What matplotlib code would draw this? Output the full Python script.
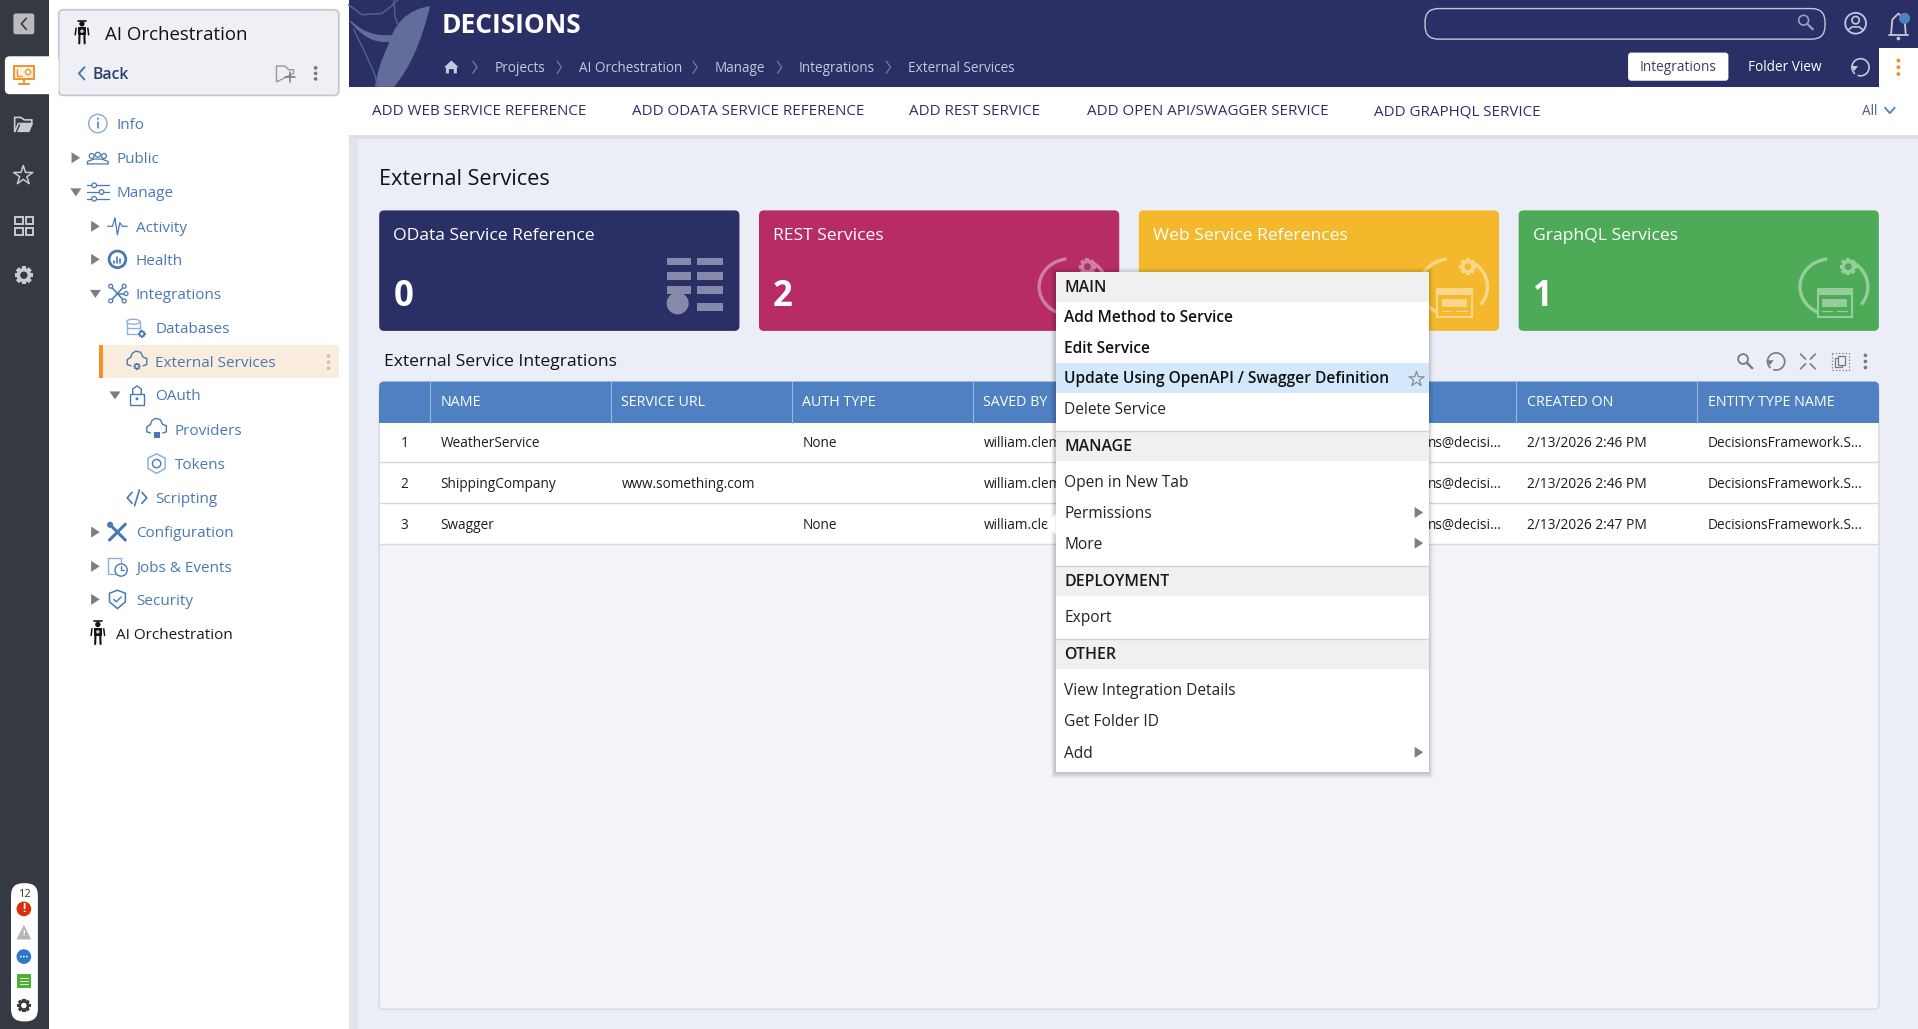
import matplotlib
matplotlib.use('Agg')
import matplotlib.pyplot as plt
from matplotlib.patches import Rectangle, FancyBboxPatch, Circle, Polygon, PathPatch, Ellipse, Arc
from matplotlib.path import Path
from matplotlib.transforms import Affine2D

plt.rcParams['font.family'] = ['Open Sans', 'DejaVu Sans']

NAVY = '#2a3066'
BLUE = '#4f81c2'
LINK = '#4a78b5'
ORANGE = '#f39325'
DARK = '#353a42'
PAGE = '#ebeef6'

# left tree
tree_labels = ['Info', 'Public', 'Manage', 'Activity', 'Health', 'Integrations', 'Databases',
               'External Services', 'OAuth', 'Providers', 'Tokens', 'Scripting',
               'Configuration', 'Jobs & Events', 'Security', 'AI Orchestration']
tree_x = [95, 95, 95, 111, 111, 111, 127, 127, 127, 143, 143, 127, 111, 111, 111, 95]
tree_y = [101, 129, 157, 185, 212, 240, 268, 296, 323, 351, 379, 407, 435, 463, 490, 518]
tree_arrow = [None, 'r', 'd', 'r', 'r', 'd', None, None, 'd', None, None, None, 'r', 'r', 'r', None]
tree_icon = ['info', 'people', 'sliders', 'pulse', 'health', 'nodes', 'db', 'cloud', 'lock',
             'cloudlock', 'hex', 'code', 'tools', 'jobs', 'shield', 'robot']

crumbs = ['Projects', 'AI Orchestration', 'Manage', 'Integrations', 'External Services']
crumb_x = [404, 473, 584, 653, 742]

toolbar_labels = ['ADD WEB SERVICE REFERENCE', 'ADD ODATA SERVICE REFERENCE', 'ADD REST SERVICE',
                  'ADD OPEN API/SWAGGER SERVICE', 'ADD GRAPHQL SERVICE']
toolbar_x = [304, 517, 743, 889, 1123]

card_titles = ['OData Service Reference', 'REST Services', 'Web Service References', 'GraphQL Services']
card_values = ['0', '2', '', '1']
card_x = [310, 620.5, 931, 1241.5]
card_colors = [NAVY, '#b82c66', '#f3b82c', '#4dab58']
card_icon_colors = ['#8689a9', '#d07fa4', '#f8d78a', '#96cd9d']

col_headers = ['NAME', 'SERVICE URL', 'AUTH TYPE', 'SAVED BY', 'CREATED ON', 'ENTITY TYPE NAME']
col_x = [351.5, 499.5, 647.5, 795.5, 1239.5, 1387.5]
row_names = ['WeatherService', 'ShippingCompany', 'Swagger']
row_urls = ['', 'www.something.com', '']
row_auth = ['None', '', 'None']
row_saved = ['william.clem', 'william.clem', 'william.cle']
row_created_by = ['ns@decisi...', 'ns@decisi...', 'ns@decisi...']
row_created_on = ['2/13/2026 2:46 PM', '2/13/2026 2:46 PM', '2/13/2026 2:47 PM']
row_entity = ['DecisionsFramework.S...'] * 3
row_y = [361.5, 395, 428.5]

menu_heads = ['MAIN', 'MANAGE', 'DEPLOYMENT', 'OTHER']
menu_head_y = [234, 364.5, 475, 534.5]
menu_items = ['Add Method to Service', 'Edit Service', 'Update Using OpenAPI / Swagger Definition',
              'Delete Service', 'Open in New Tab', 'Permissions', 'More', 'Export',
              'View Integration Details', 'Get Folder ID', 'Add']
menu_y = [259, 284, 309, 334, 394, 419, 444, 504, 564, 589, 615]
menu_bold = [True, True, True, False, False, False, False, False, False, False, False]
menu_sub = [False, False, False, False, False, True, True, False, False, False, True]

fig = plt.figure(figsize=(19.18, 10.29), dpi=100)
ax = fig.add_axes([0, 0, 1, 1])
ax.set_xlim(0, 1568)
ax.set_ylim(841.2, 0)
ax.axis('off')


def rect(x0, y0, x1, y1, color, z=1, **kw):
    ax.add_patch(Rectangle((x0, y0), x1 - x0, y1 - y0, fc=color, ec='none', zorder=z, **kw))


def rrect(x0, y0, x1, y1, color, r=3, z=1, ec='none', lw=0, **kw):
    ax.add_patch(FancyBboxPatch((x0 + r, y0 + r), x1 - x0 - 2 * r, y1 - y0 - 2 * r,
                                boxstyle='round,pad=%s,rounding_size=%s' % (r, r),
                                fc=color, ec=ec, lw=lw, zorder=z, **kw))


def txt(x, y, s, size=10.2, color='#1c1c1c', z=5, weight='normal', ha='left', **kw):
    # Open Sans sits a little high with va=center, more so at larger sizes
    ax.text(x, y + size * 0.13, s, fontsize=size, color=color, zorder=z, weight=weight, ha=ha, va='center', **kw)


def line(xs, ys, color=LINK, lw=1.0, z=4, **kw):
    ax.plot(xs, ys, color=color, lw=lw, zorder=z, solid_capstyle='round', **kw)


def circ(x, y, r, color='none', ec='none', lw=1.0, z=4):
    ax.add_patch(Circle((x, y), r, fc=color, ec=ec, lw=lw, zorder=z))


def dots(x, y, color, z=5, gap=5.5, r=1.5):
    for d in (-gap, 0, gap):
        circ(x, y + d, r, color=color, z=z)


def gear(x, y, r, color, hole, z=4):
    for i in range(4):
        ax.add_patch(Rectangle((x - r * 1.25, y - r * 0.3), r * 2.5, r * 0.6, fc=color, ec='none', zorder=z,
                               transform=Affine2D().rotate_deg_around(x, y, 45 * i) + ax.transData))
    circ(x, y, r, color=color, z=z)
    circ(x, y, r * 0.5, color=hole, z=z + 0.1)


def robot(x, y, z=5):
    c = '#141414'
    circ(x, y - 7.5, 2.2, color=c, z=z)
    line([x - 3, x + 3], [y - 10, y - 10], c, 1.2, z)
    rect(x - 3.5, y - 5, x + 3.5, y + 2, c, z)
    line([x - 4.8, x - 5.5], [y - 4, y + 1.5], c, 1.1, z)
    line([x + 4.8, x + 5.5], [y - 4, y + 1.5], c, 1.1, z)
    line([x - 2, x - 2.2], [y + 2, y + 8.5], c, 1.5, z)
    line([x + 2, x + 2.2], [y + 2, y + 8.5], c, 1.5, z)
    circ(x, y - 1.5, 1.4, color='#cfcfcf', z=z + 0.1)


def cloud(x, y, color=LINK, lw=1.0, z=4):
    line([x - 5, x - 8, x - 8, x - 5, x - 4, x - 1, x + 3, x + 5, x + 8, x + 8, x + 5],
         [y + 4, y + 3, y - 1, y - 3, y - 6, y - 8, y - 7, y - 3, y - 2, y + 3, y + 4], color, lw, z)


def icon(kind, x, y):
    if kind == 'info':
        circ(x, y, 7.5, ec='#8fb0dc', lw=1.1)
        line([x, x], [y - 1, y + 4], LINK, 1.1)
        circ(x, y - 4, 0.8, color=LINK)
    elif kind == 'people':
        for dx in (-5, 0, 5):
            circ(x + dx, y - 2.5 if dx == 0 else y - 1.5, 2, ec=LINK, lw=0.9)
        line([x - 8.5, x - 8.5, x - 3, x + 3, x + 8.5, x + 8.5, x - 8.5], [y + 5, y + 3, y + 1, y + 1, y + 3, y + 5, y + 5], LINK, 0.9)
    elif kind == 'sliders':
        for dy, dx in ((-5.5, -3), (0, 3), (5.5, -3)):
            line([x - 8.5, x + 9], [y + dy, y + dy], LINK, 0.9)
            circ(x + dx, y + dy, 1.9, color='white', ec=LINK, lw=0.9)
    elif kind == 'pulse':
        line([x - 8, x - 4, x - 2, x + 0, x + 2, x + 4, x + 8], [y, y, y - 7, y + 7, y - 3, y, y], LINK, 0.9)
    elif kind == 'health':
        circ(x, y, 6.8, ec=LINK, lw=2.0)
        for dx, h in ((-2.5, 2), (0, 5), (2.5, 3)):
            line([x + dx, x + dx], [y + 3, y + 3 - h], LINK, 1.2)
    elif kind == 'nodes':
        for dx, dy in ((-5.5, -6), (5.5, -6), (7, 0), (5.5, 6), (-5.5, 6)):
            line([x, x + dx], [y, y + dy], LINK, 1.1)
            circ(x + dx, y + dy, 1.6, color='white', ec=LINK, lw=0.9)
    elif kind == 'db':
        ax.add_patch(Ellipse((x - 3, y - 5), 11, 4, fc='white', ec='#8fb0dc', lw=1, zorder=4))
        line([x - 8.5, x - 8.5, x + 2.5, x + 2.5], [y - 5, y + 5, y + 5, y - 5], '#8fb0dc', 1.0)
        line([x - 8.5, x + 2.5], [y, y], '#8fb0dc', 1.0)
        gear(x + 4, y + 5, 2.4, LINK, 'white')
    elif kind == 'cloud':
        cloud(x, y - 1)
        gear(x, y + 3.5, 2.3, LINK, PAGE)
    elif kind == 'lock':
        ax.add_patch(Rectangle((x - 5.5, y - 1), 11, 9, fc='white', ec=LINK, lw=1.0, zorder=4))
        line([x - 3.5, x - 3.5, x, x + 3.5, x + 3.5], [y - 1, y - 5, y - 7.5, y - 5, y - 1], LINK, 1.0)
        circ(x, y + 3, 1.2, color=LINK)
    elif kind == 'cloudlock':
        cloud(x, y - 1)
        rect(x - 2.5, y + 2, x + 2.5, y + 7, LINK, 5)
    elif kind == 'hex':
        ax.add_patch(Polygon([(x, y - 8), (x + 7, y - 4.5), (x + 7, y + 4), (x, y + 8), (x - 7, y + 4), (x - 7, y - 4.5)],
                             fc='white', ec='#8fb0dc', lw=1.1, zorder=4))
        circ(x, y, 3.4, ec=LINK)
    elif kind == 'code':
        line([x - 4, x - 8, x - 4], [y - 4.5, y, y + 4.5], LINK, 1.2)
        line([x + 4, x + 8, x + 4], [y - 4.5, y, y + 4.5], LINK, 1.2)
        line([x - 2, x + 2], [y + 6.5, y - 6.5], LINK, 1.2)
    elif kind == 'tools':
        line([x - 6.5, x + 6.5], [y - 6.5, y + 6.5], LINK, 2.2)
        line([x + 6.5, x - 6.5], [y - 6.5, y + 6.5], LINK, 2.2)
        circ(x - 6, y - 6, 2.5, color=LINK)
    elif kind == 'jobs':
        ax.add_patch(Rectangle((x - 8, y - 7), 11, 13, fc='white', ec='#8fb0dc', lw=1, zorder=4))
        circ(x + 3, y + 3, 5, color='white', ec=LINK, lw=1.0)
        line([x + 3, x + 3, x + 5.5], [y, y + 3, y + 3], LINK, 0.9)
    elif kind == 'shield':
        ax.add_patch(Polygon([(x, y - 7.5), (x + 6.5, y - 5), (x + 6.5, y + 2), (x, y + 7.5), (x - 6.5, y + 2), (x - 6.5, y - 5)],
                             fc='white', ec=LINK, lw=1.1, zorder=4))
        line([x - 3, x - 1, x + 3], [y, y + 2, y - 2], LINK, 1.0)
    elif kind == 'robot':
        robot(x, y)


def tri(x, y, kind, color='#7d7d7d', z=4):
    if kind == 'r':
        pts = [(x - 3.5, y - 4.5), (x + 3.5, y), (x - 3.5, y + 4.5)]
    else:
        pts = [(x - 4.5, y - 3), (x + 4.5, y - 3), (x, y + 3.5)]
    ax.add_patch(Polygon(pts, fc=color, ec='none', zorder=z))


def magnifier(x, y, color, lw=1.2, z=5):
    circ(x - 1.5, y - 1.5, 4, ec=color, lw=lw, z=z)
    line([x + 1.5, x + 6], [y + 1.5, y + 6], color, lw + 0.4, z)


def refresh(x, y, color, z=5):
    ax.add_patch(Arc((x, y), 14, 14, theta1=-230, theta2=110, ec=color, lw=1.2, zorder=z))
    ax.add_patch(Polygon([(x - 8, y - 1), (x - 2, y - 1), (x - 5, y + 3)], fc=color, ec='none', zorder=z))


def service_icon(dx, color, fill):
    # cloud with gear and small window, as on the three service cards
    ax.add_patch(Arc((1497 + dx, 234.5), 51, 46, theta1=95, theta2=262, ec=color, lw=2.4, zorder=3))
    ax.add_patch(Arc((1503 + dx, 234.5), 48, 46, theta1=-65, theta2=38, ec=color, lw=2.4, zorder=3))
    gear(1511 + dx, 218, 5.6, color, fill, z=3)
    ax.add_patch(Rectangle((1486 + dx, 236), 28, 23, fc=fill, ec=color, lw=1.5, zorder=3))
    rect(1486 + dx, 236, 1514 + dx, 241, color, 3.1)
    rect(1489.5 + dx, 244.5, 1510 + dx, 251, color, 3.1)
    line([1489.5 + dx, 1497.5 + dx], [254.5, 254.5], color, 0.9, 3.1)
    line([1501.5 + dx, 1510 + dx], [254.5, 254.5], color, 0.9, 3.1)


# page blocks
rect(0, 0, 1568, 842, PAGE, 0)
rect(285, 110, 293, 842, '#e1e4ec', 0.5)
rect(40, 0, 285, 842, 'white', 1)
rect(0, 0, 40, 842, DARK, 2)

# dark rail
rrect(11, 11, 28, 28, '#b9bbbf', r=2, z=3)
line([21.5, 17.5, 21.5], [15, 19.5, 24], '#353a42', 1.2)
rrect(4, 46, 48, 77, 'white', r=4, z=3)
ax.add_patch(Rectangle((11.5, 54), 16.5, 10.5, fc='#fdf1e2', ec=ORANGE, lw=1.4, zorder=4))
line([19.5, 19.5], [64.5, 68.5], ORANGE, 1.4)
line([15.5, 23.5], [68.5, 68.5], ORANGE, 1.4)
line([14, 14, 18], [56, 62, 62], ORANGE, 1.0)
circ(23, 59, 2.2, ec=ORANGE, lw=0.9)
ax.add_patch(Polygon([(12, 108), (12, 96), (17, 96), (20, 98), (26, 98), (26, 101), (15, 101)], fc='none', ec='#c9cbce', lw=1.2, zorder=4))
ax.add_patch(Polygon([(14, 108), (17, 101), (27, 101), (24, 108)], fc='#c9cbce', ec='none', zorder=4))
ax.scatter([19], [143.5], marker='*', s=210, fc='none', ec='#c9cbce', lw=1.1, zorder=4)
for tx in (12.5, 21):
    for ty in (177, 186):
        ax.add_patch(Rectangle((tx, ty), 6, 6, fc='none', ec='#c9cbce', lw=1.4, zorder=4))
gear(19.5, 225, 6, '#c9cbce', DARK)

# small status pill
rrect(9, 722, 31, 835, 'white', r=10, z=3)
txt(20, 730.5, '12', size=8, color='#333333', ha='center')
circ(19.5, 743, 6, color='#d9300c')
txt(19.5, 741.5, '!', size=8.5, color='white', ha='center', weight='bold', z=6)
ax.add_patch(Polygon([(19.5, 756), (25.5, 768), (13.5, 768)], fc='#b4b4b4', ec='none', zorder=4))
txt(19.5, 762, '!', size=6.5, color='white', ha='center', weight='bold', z=6)
circ(19.5, 782, 6, color='#2e78c7')
for ddx in (-2.4, 0, 2.4):
    circ(19.5 + ddx, 782, 0.7, color='white', z=6)
rect(14, 796, 25, 808, '#4cb034', 4)
for ly in (799.5, 802, 804.5):
    line([16, 23], [ly, ly], 'white', 0.6, 5)
gear(19.5, 822, 4.5, '#3b3b3b', 'white')

# folder panel
rrect(48, 8, 277, 78, '#eef0f5', r=4, z=2, ec='#c4c6cb', lw=1.2)
robot(67, 27)
txt(86, 26.5, 'AI Orchestration', size=13.4, color='#111111', weight='medium')
line([69, 64.5, 69], [55, 60, 65], LINK, 1.4)
txt(76, 59.5, 'Back', size=11.3, color='#2a3f6b', weight='semibold')
ax.add_patch(Polygon([(226, 67), (226, 54), (233, 54), (236, 57), (240, 57), (240, 60)], fc='none', ec='#9a9a9a', lw=1.0, zorder=4))
line([233, 241], [63, 63], '#777777', 1.1)
line([237, 237], [59, 67], '#777777', 1.1)
dots(258, 60, '#777777', gap=4.5)

# tree
rect(81, 282, 277, 309, '#fbeddd', 2)
rect(81, 282, 84, 309, ORANGE, 3)
dots(268.5, 296, '#c9c2b6', gap=5)
for label, x, y, arrow, kind in zip(tree_labels, tree_x, tree_y, tree_arrow, tree_icon):
    black = label == 'AI Orchestration'
    txt(x, y, label, size=11, color='#1a1a1a' if black else LINK)
    icon(kind, x - 15, y)
    if arrow:
        tri(x - 33, y, arrow)

# header
rect(285, 0, 1568, 71, NAVY, 1)
leaf = Path([(351.6, 5), (332, 8), (322, 20), (317, 38), (312, 48), (308, 60), (306.6, 71),
             (312, 71), (318, 71), (322, 71), (336, 55), (345, 32), (351.6, 5)],
            [Path.MOVETO] + [Path.CURVE4] * 12)
ax.add_patch(PathPatch(leaf, fc='#646c9c', ec='none', zorder=2))
band = Path([(285, 16), (296, 32), (315, 42), (334, 27), (322, 28), (312, 32), (296, 24), (285, 16)],
            [Path.MOVETO, Path.CURVE4, Path.CURVE4, Path.CURVE4, Path.CURVE4, Path.CURVE4, Path.CURVE4, Path.LINETO])
ax.add_patch(PathPatch(band, fc='#646c9c', ec='none', zorder=2))
line([285, 296, 312, 320, 325], [4, 12, 11, 5, 0], '#565e92', 1.1, 2)
line([322, 323, 326], [0, 14, 22], '#565e92', 1.0, 2)
line([289, 298, 306, 309], [24, 42, 60, 71], '#565e92', 1.0, 2)
txt(361, 18.5, 'DECISIONS', size=19, color='white', weight='bold')

ax.add_patch(Polygon([(369, 49.5), (375, 55), (373.5, 55), (373.5, 60), (371, 60), (371, 56.5), (367, 56.5), (367, 60), (364.5, 60), (364.5, 55), (363, 55)],
                     fc='#c5c8dc', ec='none', zorder=3))
for x, s in zip(crumb_x, crumbs):
    txt(x, 54.5, s, size=9.75, color='#c5c8dc')
    line([x - 17.5, x - 14, x - 17.5], [50, 55, 60], '#7e84aa', 0.8, 3)

rrect(1165, 7, 1492, 32, 'none', r=11, z=3, ec='#c3c5d6', lw=1.0)
magnifier(1476, 18, '#9a9fbb')
circ(1517, 19, 8.5, ec='#c5c8dc', lw=1.3)
circ(1517, 16.5, 3, ec='#c5c8dc', lw=1.2)
line([1511, 1514, 1520, 1523], [24.5, 22, 22, 24.5], '#c5c8dc', 1.2)
line([1546, 1547, 1552, 1557, 1558], [28, 16, 11, 16, 28], '#c5c8dc', 1.3)
line([1544, 1560], [29, 29], '#c5c8dc', 1.3)
circ(1552, 31.5, 1.5, color='#c5c8dc')
circ(1557, 15, 4.5, color=BLUE, z=5)

rrect(1331, 43, 1413, 66, 'white', r=2.5, z=3)
txt(1372, 54, 'Integrations', size=9.8, color='#3a3f60', ha='center')
txt(1429, 54, 'Folder View', size=9.8, color='white')
refresh(1521, 55, '#c5c8dc')
ax.add_patch(Rectangle((1536, 39), 32, 32, fc='white', ec='none', zorder=3))
dots(1552, 55, ORANGE, gap=5.5, r=1.6)

# toolbar
rect(285, 110, 1568, 114, '#dcdfe6', 1)
rect(285, 71, 1568, 110, 'white', 2)
for x, s in zip(toolbar_x, toolbar_labels):
    txt(x, 90, s, size=10.9, color=NAVY, weight='medium')
txt(1522, 90, 'All', size=9.8, color='#4a5a80')
line([1541, 1545, 1549], [88, 92.5, 88], BLUE, 1.3)

txt(310, 144.5, 'External Services', size=15.6, color='#111111')

# cards
for x, title, value, color in zip(card_x, card_titles, card_values, card_colors):
    rrect(x, 172, x + 294.5, 270.5, color, r=4, z=2)
    txt(x + 11.5, 191.5, title, size=12.6, color='white')
    if value:
        txt(x + 11.5, 239.5, value, size=25, color='white', weight='bold')
for i in range(3):
    rect(545, 211 + i * 11.5, 565, 217 + i * 11.5, card_icon_colors[0], 3)
    rect(570, 211 + i * 11.5, 591, 217 + i * 11.5, card_icon_colors[0], 3)
circ(554, 248, 9, color=card_icon_colors[0], z=3)
rect(570, 248, 591, 254, card_icon_colors[0], 3)
service_icon(-622, card_icon_colors[1], card_colors[1])
service_icon(-311, card_icon_colors[2], card_colors[2])
service_icon(0, card_icon_colors[3], card_colors[3])

# table
txt(314, 294.5, 'External Service Integrations', size=12.6, color='#111111')
magnifier(1426.5, 295, '#7a7a7a', 1.3)
refresh(1452, 295.5, '#7a7a7a')
for sx, sy in ((-1, -1), (1, -1), (-1, 1), (1, 1)):
    line([1478 + sx * 2, 1478 + sx * 6], [295.5 + sy * 2, 295.5 + sy * 6], '#7a7a7a', 1.2)
ax.add_patch(Rectangle((1497.5, 288.5), 14, 14, fc='none', ec='#7a7a7a', lw=0.9, ls=':', zorder=4))
ax.add_patch(Rectangle((1500, 293), 6, 7, fc='none', ec='#7a7a7a', lw=0.9, zorder=4))
ax.add_patch(Rectangle((1502.5, 291), 6, 7, fc=PAGE, ec='#7a7a7a', lw=0.9, zorder=4.1))
dots(1525, 295.5, '#7a7a7a', gap=5)

rrect(310, 312, 1536, 825, '#f2f4f9', r=4, z=2, ec='#d6d9e0', lw=1.0)
rrect(310, 312, 1536, 345.5, BLUE, r=4, z=2.5)
rect(310, 320, 1536, 345.5, BLUE, 2.5)
rect(310.5, 345.5, 1535.5, 444.5, 'white', 2.4)
for x in col_x + [1091.5]:
    line([x, x], [312, 345.5], '#9ab7dd', 0.8, 3)
for x, s in zip(col_x, col_headers):
    txt(x + 8.5, 328, s, size=10.3, color='white', weight='medium')
for i, y in enumerate(row_y):
    line([310.5, 1535.5], [y + 16.5, y + 16.5], '#d8d8d8', 1.0, 3)
    txt(330.5, y, str(i + 1), size=9.8, ha='center')
    txt(360, y, row_names[i], size=9.8)
    txt(508, y, row_urls[i], size=9.8)
    txt(656, y, row_auth[i], size=9.8)
    txt(804, y, row_saved[i], size=9.8)
    txt(1228, y, row_created_by[i], size=9.8, ha='right')
    txt(1248, y, row_created_on[i], size=9.9)
    txt(1396, y, row_entity[i], size=9.8)

# context menu
for pad, alpha in ((4, 0.03), (3, 0.04), (2, 0.05), (1, 0.07)):
    rect(863 - pad, 222 - pad + 1, 1168 + pad, 631 + pad + 1, '#000000', 10, alpha=alpha)
rect(863, 222, 1168, 631, 'white', 11)
ax.add_patch(Polygon([(863, 420), (855, 428.5), (863, 437)], fc='white', ec='none', zorder=11))
head_tops = [222, 352.5, 462.5, 522]
for top, y, s in zip(head_tops, menu_head_y, menu_heads):
    rect(863, top, 1168, top + 24.5, '#f0f0f0', 12)
    if top != 222:
        line([863, 1168], [top, top], '#d2d2d2', 1.0, 13)
    txt(870, y - 0.3, s, size=11.4, color='#1a1a1a', weight='semibold', z=14)
rect(863, 297, 1168, 321, '#d4e8fb', 12)
for y, s, bold, sub in zip(menu_y, menu_items, menu_bold, menu_sub):
    txt(870, y - 0.3, s, size=11.2, color='#111111' if bold else '#222222', weight='semibold' if bold else 'normal', z=14)
    if sub:
        tri(1160, y, 'r', '#808080', 14)
ax.scatter([1158], [310], marker='*', s=130, fc='none', ec='#8d8d8d', lw=0.9, zorder=14)

fig.savefig('out.png', dpi=100)
